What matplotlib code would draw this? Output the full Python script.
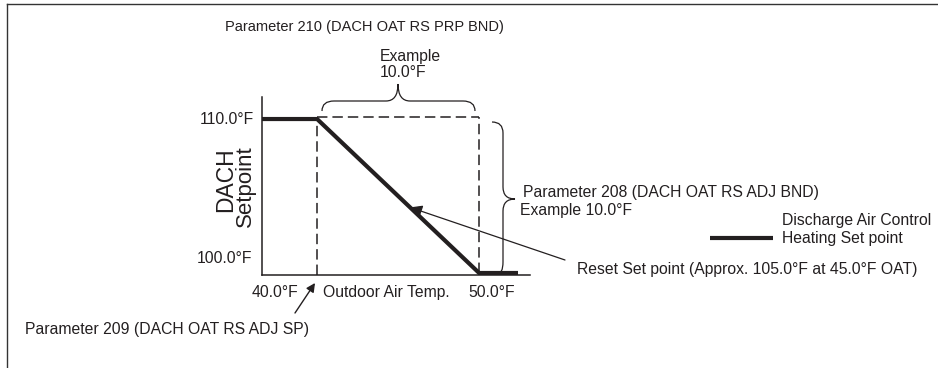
import matplotlib
matplotlib.use("Agg")
import matplotlib.pyplot as plt
from matplotlib.path import Path
from matplotlib.patches import PathPatch

plt.rcParams['font.family'] = ['Liberation Sans', 'DejaVu Sans']
plt.rcParams['lines.scale_dashes'] = False

INK = '#231f20'

# Discharge air heating setpoint reset schedule
oat = [36.6, 40.0, 50.0, 52.4]          # outdoor air temp, °F
setpoint = [110.0, 110.0, 100.0, 100.0]  # DACH setpoint, °F

reset_start = 40.0   # Parameter 209
prop_band = 10.0     # Parameter 210
adj_band = 10.0      # Parameter 208
sp_high = 110.0
sp_low = sp_high - adj_band
reset_point = (45.74, 104.26)

W, H = 938, 368
fig = plt.figure(figsize=(W / 100, H / 100), dpi=100)

# full-figure overlay in pixel units for annotations
ov = fig.add_axes([0, 0, 1, 1])
ov.set_xlim(0, W)
ov.set_ylim(H, 0)
ov.axis('off')

# chart axes
ax = fig.add_axes([262 / W, (H - 275) / H, 268 / W, 178 / H])
ax.patch.set_alpha(0)
ax.set_xlim(36.6, 53.14)
ax.set_ylim(99.87, 111.43)
for s in ('top', 'right'):
    ax.spines[s].set_visible(False)
for s in ('left', 'bottom'):
    ax.spines[s].set_linewidth(1.1)
    ax.spines[s].set_color(INK)
ax.set_xticks([])
ax.set_yticks([])

ax.plot(oat, setpoint, color=INK, lw=3.0, solid_capstyle='butt',
        solid_joinstyle='miter', zorder=3)

dash = dict(color=INK, lw=1.1, dashes=(7.5, 3.6), zorder=2)
top = sp_high + 0.13
ax.plot([reset_start, reset_start], [99.87, top], **dash)
ax.plot([reset_start, reset_start + prop_band], [top, top], **dash)
ax.plot([reset_start + prop_band] * 2, [sp_low, top], **dash)

# frame lines
ov.plot([6.5, W], [4, 4], color='#333333', lw=1.0)
ov.plot([6.5, 6.5], [4, H], color='#333333', lw=1.0)

fs = 11.3
def label(x, y, s, **kw):
    kw.setdefault('fontsize', fs)
    ov.text(x, y, s, color=INK, va='baseline', **kw)

label(225, 31.5, 'Parameter 210 (DACH OAT RS PRP BND)', fontsize=10.5)
label(380, 61.5, 'Example')
label(380, 77, f'{prop_band:.1f}°F')
label(254, 124, f'{sp_high:.1f}°F', ha='right')
label(252, 263, f'{sp_low:.1f}°F', ha='right')
label(252, 297, f'{reset_start:.1f}°F')
label(323, 297, 'Outdoor Air Temp.')
label(468, 297, f'{reset_start + prop_band:.1f}°F')
label(25, 334, 'Parameter 209 (DACH OAT RS ADJ SP)')
label(523, 197.5, 'Parameter 208 (DACH OAT RS ADJ BND)')
label(520, 215, f'Example {adj_band:.1f}°F')
label(782, 225, 'Discharge Air Control')
label(782, 243, 'Heating Set point')
label(577, 274, f'Reset Set point (Approx. {105.0:.1f}°F at {45.0:.1f}°F OAT)')

ov.text(232, 180, 'DACH', rotation=90, rotation_mode='anchor', ha='center',
        va='baseline', fontsize=16.5, color=INK)
ov.text(251, 186, 'Setpoint', rotation=90, rotation_mode='anchor', ha='center',
        va='baseline', fontsize=16, color=INK)

# legend sample
ov.plot([710, 773], [238, 238], color=INK, lw=3.0, solid_capstyle='butt')

# braces
C3, L2 = Path.CURVE3, Path.LINETO
top_brace = Path(
    [(322, 111), (322, 101), (334, 101), (386, 101), (398, 101), (398, 84),
     (398, 101), (410, 101), (463, 101), (475, 101), (475, 111)],
    [Path.MOVETO, C3, C3, L2, C3, C3, C3, C3, L2, C3, C3])
ov.add_patch(PathPatch(top_brace, fill=False, lw=0.9, ec=INK))

side_brace = Path(
    [(492, 122), (503, 122), (503, 133), (503, 187), (503, 199), (515, 199),
     (503, 199), (503, 211), (503, 262), (503, 274), (497, 274)],
    [Path.MOVETO, C3, C3, L2, C3, C3, C3, C3, L2, C3, C3])
ov.add_patch(PathPatch(side_brace, fill=False, lw=0.9, ec=INK))

# pointer arrows
ov.annotate('', xy=reset_point, xycoords=ax.transData, xytext=(565, 260),
            textcoords='data',
            arrowprops=dict(arrowstyle='-|>', color=INK, lw=0.9,
                            mutation_scale=18, shrinkA=0, shrinkB=0))
ov.annotate('', xy=(315, 283), xytext=(295, 313),
            arrowprops=dict(arrowstyle='-|>', color=INK, lw=1.0,
                            mutation_scale=13, shrinkA=0, shrinkB=0))

fig.savefig('out.png', dpi=100)
